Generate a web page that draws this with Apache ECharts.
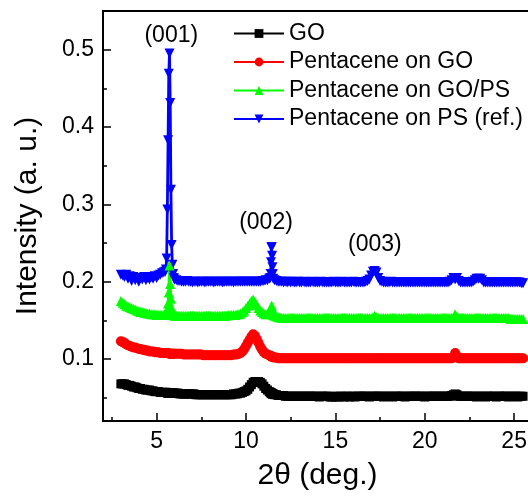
<!DOCTYPE html>
<html><head><meta charset="utf-8">
<script src="https://cdn.jsdelivr.net/npm/echarts@6/dist/echarts.min.js"></script>
<style>html,body{margin:0;padding:0;background:#fff}#c{width:528px;height:497px}</style>
</head><body><div id="c"></div>
<script>
// 2θ sampling positions (deg.)
const twoTheta = [
  3.0,3.1,3.2,3.3,3.4,3.5,3.6,3.7,3.8,3.9,
  4.0,4.1,4.2,4.3,4.4,4.5,4.6,4.7,4.8,4.9,
  5.0,5.1,5.2,5.3,5.4,
  5.48,5.52,5.56,5.60,5.64,5.68,5.72,5.76,5.80,5.84,5.88,5.92,5.96,6.00,
  6.1,6.2,6.3,6.4,6.5,6.6,6.7,6.8,6.9,7.0,
  7.1,7.2,7.3,7.4,7.5,7.6,7.7,7.8,7.9,8.0,
  8.1,8.2,8.3,8.4,8.5,8.6,8.7,8.8,8.9,9.0,
  9.1,9.2,9.3,9.4,9.5,9.6,9.7,9.8,9.9,10.0,
  10.1,10.2,10.3,10.4,10.5,10.6,10.7,10.8,10.9,11.0,
  11.1,11.2,11.3,
  11.36,11.38,11.40,11.42,11.44,11.46,11.48,11.50,11.52,
  11.6,11.7,11.8,11.9,12.0,12.1,12.2,12.3,12.4,12.5,
  12.6,12.7,12.8,12.9,13.0,13.1,13.2,13.3,13.4,13.5,
  13.6,13.7,13.8,13.9,14.0,14.1,14.2,14.3,14.4,14.5,
  14.6,14.7,14.8,14.9,15.0,15.1,15.2,15.3,15.4,15.5,
  15.6,15.7,15.8,15.9,16.0,16.1,16.2,16.3,16.4,16.5,
  16.6,16.7,16.8,16.9,17.0,17.1,17.2,17.3,17.4,17.5,
  17.6,17.7,17.8,17.9,18.0,18.1,18.2,18.3,18.4,18.5,
  18.6,18.7,18.8,18.9,19.0,19.1,19.2,19.3,19.4,19.5,
  19.6,19.7,19.8,19.9,20.0,20.1,20.2,20.3,20.4,20.5,
  20.6,20.7,20.8,20.9,21.0,21.1,21.2,21.3,21.4,21.5,
  21.6,21.7,21.8,21.9,22.0,22.1,22.2,22.3,22.4,22.5,
  22.6,22.7,22.8,22.9,23.0,23.1,23.2,23.3,23.4,23.5,
  23.6,23.7,23.8,23.9,24.0,24.1,24.2,24.3,24.4,24.5,
  24.6,24.7,24.8,24.9,25.0,25.1,25.2,25.3,25.4,25.5
];

// GO
const goY = [
  .068,.068,.068,.067,.066,.066,.065,.064,.064,.063,
  .062,.062,.061,.061,.060,.060,.060,.059,.059,.058,
  .058,.058,.057,.057,.057,
  .057,.057,.057,.056,.056,.056,.056,.056,.056,.056,.056,.056,.056,.056,
  .056,.056,.055,.055,.055,.055,.055,.055,.055,.055,
  .055,.054,.054,.054,.054,.054,.054,.054,.054,.054,
  .054,.054,.054,.054,.054,.054,.054,.054,.054,.054,
  .054,.054,.055,.055,.055,.056,.056,.057,.058,.059,
  .061,.064,.067,.070,.071,.070,.071,.070,.068,.065,
  .062,.060,.058,
  .057,.057,.056,.056,.056,.055,.055,.055,.055,
  .054,.054,.053,.053,.053,.053,.052,.052,.052,.052,
  .052,.052,.052,.052,.052,.052,.052,.052,.052,.052,
  .052,.052,.052,.052,.052,.051,.052,.052,.052,.052,
  .052,.051,.051,.052,.051,.052,.051,.052,.052,.051,
  .052,.052,.051,.052,.052,.051,.052,.052,.052,.052,
  .052,.052,.052,.051,.052,.052,.052,.052,.052,.052,
  .052,.051,.052,.052,.052,.052,.051,.052,.052,.052,
  .052,.052,.052,.051,.052,.052,.052,.052,.052,.052,
  .052,.052,.052,.052,.051,.052,.052,.052,.052,.052,
  .052,.052,.052,.052,.052,.052,.052,.052,.052,.053,
  .054,.055,.054,.052,.052,.052,.052,.052,.052,.052,
  .052,.052,.052,.051,.052,.052,.052,.052,.051,.052,
  .052,.052,.052,.052,.051,.052,.052,.052,.052,.052,
  .052,.051,.052,.052,.052,.052,.051,.052,.052,.052
];

// Pentacene on GO
const pentGoY = [
  .123,.122,.121,.119,.118,.117,.116,.115,.115,.114,
  .113,.113,.112,.112,.111,.111,.110,.110,.110,.109,
  .109,.109,.108,.108,.108,
  .108,.108,.108,.108,.108,.107,.107,.107,.107,.107,.107,.107,.107,.107,
  .107,.107,.107,.107,.106,.106,.106,.106,.106,.106,
  .106,.106,.106,.106,.106,.105,.105,.105,.105,.105,
  .105,.105,.105,.105,.105,.105,.105,.105,.105,.105,
  .105,.105,.106,.106,.106,.107,.108,.110,.113,.117,
  .121,.125,.129,.132,.130,.126,.121,.116,.112,.109,
  .107,.106,.105,
  .104,.104,.104,.103,.103,.103,.103,.103,.102,
  .102,.102,.101,.101,.101,.101,.101,.101,.101,.101,
  .101,.101,.101,.101,.101,.101,.101,.101,.101,.101,
  .101,.101,.101,.101,.101,.101,.101,.101,.101,.101,
  .101,.101,.101,.101,.101,.101,.101,.101,.101,.101,
  .101,.101,.101,.101,.101,.101,.101,.101,.101,.101,
  .101,.101,.101,.101,.101,.101,.101,.101,.101,.101,
  .101,.101,.101,.101,.101,.101,.101,.101,.101,.101,
  .101,.101,.101,.101,.101,.101,.101,.101,.101,.101,
  .101,.101,.101,.101,.101,.101,.101,.101,.101,.101,
  .101,.101,.101,.101,.101,.101,.101,.101,.101,.101,
  .102,.108,.104,.101,.101,.101,.101,.101,.101,.101,
  .101,.101,.101,.101,.101,.101,.101,.101,.101,.101,
  .101,.101,.101,.101,.101,.101,.101,.101,.101,.101,
  .101,.101,.101,.101,.101,.101,.101,.101,.101,.101
];

// Pentacene on GO/PS
const pentGoPsY = [
  .175,.173,.171,.169,.168,.167,.166,.165,.164,.163,
  .162,.161,.161,.160,.160,.159,.159,.158,.158,.158,
  .157,.157,.157,.157,.157,
  .157,.158,.160,.165,.172,.186,.221,.197,.178,.166,.160,.158,.157,.156,
  .156,.156,.156,.156,.156,.156,.156,.156,.156,.156,
  .156,.156,.156,.156,.156,.156,.156,.156,.156,.156,
  .156,.156,.156,.156,.156,.156,.156,.156,.156,.157,
  .157,.157,.157,.157,.158,.158,.159,.161,.163,.166,
  .169,.172,.175,.177,.174,.170,.166,.163,.161,.159,
  .158,.158,.159,
  .160,.162,.165,.168,.169,.166,.162,.159,.157,
  .156,.155,.154,.154,.153,.153,.153,.153,.153,.153,
  .153,.153,.153,.153,.153,.153,.153,.153,.153,.153,
  .153,.153,.153,.153,.153,.153,.153,.153,.153,.153,
  .153,.153,.153,.153,.153,.153,.153,.153,.153,.153,
  .153,.153,.153,.153,.153,.153,.153,.153,.153,.153,
  .153,.153,.153,.153,.153,.154,.156,.154,.153,.153,
  .153,.153,.153,.153,.153,.153,.153,.153,.153,.153,
  .153,.153,.153,.153,.153,.153,.153,.153,.153,.153,
  .153,.153,.153,.153,.153,.153,.153,.153,.153,.153,
  .153,.153,.153,.153,.153,.153,.153,.153,.153,.153,
  .154,.158,.155,.153,.153,.153,.153,.153,.153,.153,
  .153,.153,.153,.153,.153,.153,.153,.153,.153,.153,
  .153,.153,.153,.153,.153,.153,.153,.153,.153,.153,
  .153,.153,.152,.152,.152,.152,.152,.152,.152,.152
];

// Pentacene on PS (ref.)
const pentPsY = [
  .209,.208,.206,.209,.204,.207,.201,.206,.202,.205,
  .200,.205,.203,.206,.202,.205,.203,.206,.204,.207,
  .205,.208,.209,.211,.212,
  .213,.216,.230,.2935,.383,.469,.495,.431,.319,.2475,.222,.210,.205,.203,
  .202,.201,.201,.200,.200,.200,.201,.200,.200,.199,
  .200,.200,.199,.200,.200,.200,.199,.200,.200,.200,
  .200,.199,.200,.200,.200,.200,.199,.200,.200,.200,
  .200,.200,.199,.200,.200,.200,.200,.200,.200,.200,
  .200,.200,.200,.200,.200,.200,.200,.200,.201,.201,
  .202,.202,.204,
  .205,.210,.2252,.2445,.2445,.2337,.2187,.2101,.204,
  .202,.201,.200,.200,.200,.199,.200,.199,.200,.199,
  .200,.199,.199,.200,.199,.199,.200,.199,.199,.199,
  .199,.200,.199,.199,.199,.199,.200,.199,.199,.199,
  .199,.199,.199,.200,.199,.199,.199,.199,.200,.199,
  .199,.199,.199,.199,.200,.199,.199,.199,.199,.199,
  .199,.200,.201,.203,.208,.213,.214,.212,.205,.201,
  .200,.199,.199,.199,.199,.200,.199,.199,.199,.199,
  .199,.199,.199,.199,.199,.199,.199,.199,.199,.199,
  .199,.199,.199,.199,.199,.199,.199,.199,.199,.199,
  .199,.199,.199,.199,.199,.199,.199,.199,.200,.202,
  .205,.203,.205,.201,.199,.199,.199,.199,.199,.199,
  .199,.200,.202,.204,.204,.204,.202,.199,.199,.199,
  .199,.199,.199,.199,.199,.199,.199,.199,.199,.199,
  .199,.199,.199,.199,.199,.199,.199,.199,.198,.198
];

const seriesNames = ['GO', 'Pentacene on GO', 'Pentacene on GO/PS', 'Pentacene on PS (ref.)'];
const xMajorTicks = [5, 10, 15, 20, 25];
const xMinorTicks = [2.5, 7.5, 12.5, 17.5, 22.5];
const yMajorTicks = [0.1, 0.2, 0.3, 0.4, 0.5];
const yMinorTicks = [0.05, 0.15, 0.25, 0.35, 0.45];
const peakLabels = ['(001)', '(002)', '(003)'];
const peakLabelX = [5.82, 11.12, 17.21];
const peakLabelY = [0.518, 0.276, 0.2475];

const FONT = 'Liberation Sans, Arial, sans-serif';
const pairs = ys => twoTheta.map((x, i) => [x, ys[i]]);

const chart = echarts.init(document.getElementById('c'), null, { renderer: 'canvas' });

function mkLine(name, ys, color, symbol, size, rot) {
  return {
    name, type: 'line', data: pairs(ys),
    symbol, symbolSize: size, symbolRotate: rot || 0,
    lineStyle: { color, width: 2.8 },
    itemStyle: { color, borderWidth: 0 },
    emphasis: { disabled: true },
    animation: false
  };
}

const tickStyle = { color: '#000', width: 1.5 };

chart.setOption({
  animation: false,
  backgroundColor: '#fff',
  grid: {
    left: 103, top: 11, right: -4, bottom: 76,
    show: true, borderColor: '#000', borderWidth: 2,
    backgroundColor: 'transparent', outerBoundsMode: 'none', containLabel: false
  },
  legend: {
    data: seriesNames,
    orient: 'vertical',
    left: 233, top: 22,
    padding: 0,
    itemWidth: 50, itemHeight: 11, itemGap: 5.5,
    textStyle: { fontSize: 23, color: '#000', fontFamily: FONT },
    selectedMode: false
  },
  xAxis: [
    {
      type: 'value', min: 2, max: 26,
      axisLine: { show: false },
      splitLine: { show: false },
      axisTick: { show: true, inside: true, length: 8, customValues: xMajorTicks, lineStyle: tickStyle },
      axisLabel: { show: true, customValues: xMajorTicks, fontSize: 23, color: '#000', fontFamily: FONT, margin: 9 },
      name: '2θ (deg.)', nameLocation: 'middle', nameGap: 40,
      nameTextStyle: { fontSize: 30, color: '#000', fontFamily: FONT }
    },
    {
      type: 'value', min: 2, max: 26, position: 'bottom',
      axisLine: { show: false }, splitLine: { show: false },
      axisTick: { show: true, inside: true, length: 4, customValues: xMinorTicks, lineStyle: tickStyle },
      axisLabel: { show: false }
    }
  ],
  yAxis: [
    {
      type: 'value', min: 0.02, max: 0.55,
      axisLine: { show: false },
      splitLine: { show: false },
      axisTick: { show: true, inside: true, length: 8, customValues: yMajorTicks, lineStyle: tickStyle },
      axisLabel: { show: true, customValues: yMajorTicks, fontSize: 23, color: '#000', fontFamily: FONT, margin: 9,
        formatter: v => v.toFixed(1) },
      name: 'Intensity (a. u.)', nameLocation: 'middle', nameGap: 60,
      nameTextStyle: { fontSize: 30, color: '#000', fontFamily: FONT }
    },
    {
      type: 'value', min: 0.02, max: 0.55, position: 'left',
      axisLine: { show: false }, splitLine: { show: false },
      axisTick: { show: true, inside: true, length: 4, customValues: yMinorTicks, lineStyle: tickStyle },
      axisLabel: { show: false }
    }
  ],
  series: [
    mkLine(seriesNames[3], pentPsY, '#0000ff', 'triangle', 10, 180),
    mkLine(seriesNames[2], pentGoPsY, '#00ff00', 'triangle', 10, 0),
    mkLine(seriesNames[1], pentGoY, '#ff0000', 'circle', 10, 0),
    mkLine(seriesNames[0], goY, '#000000', 'rect', 9, 0)
  ]
});

// Peak annotations placed through the axes' own scales
chart.setOption({
  graphic: peakLabels.map((t, i) => {
    const p = chart.convertToPixel({ xAxisIndex: 0, yAxisIndex: 0 }, [peakLabelX[i], peakLabelY[i]]);
    return {
      type: 'text', x: p[0], y: p[1], silent: true, z: 100,
      style: { text: t, fill: '#000', font: '23px ' + FONT, textAlign: 'center', textVerticalAlign: 'middle' }
    };
  })
});
</script>
</body></html>
